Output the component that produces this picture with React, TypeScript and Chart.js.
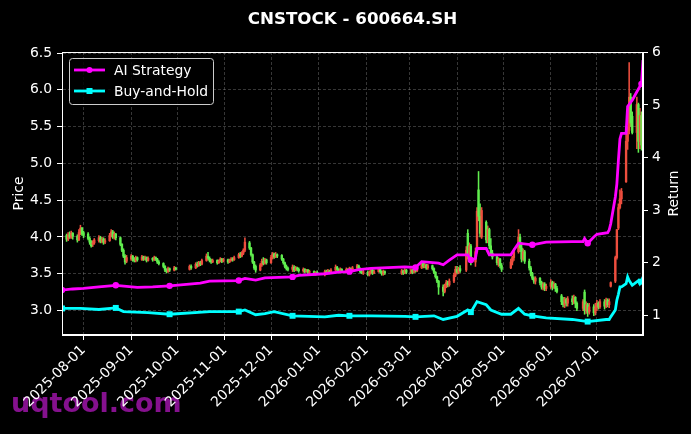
import React, { useEffect, useRef } from 'react';
import { Chart, registerables } from 'chart.js';

Chart.register(...registerables);

const TITLE = 'CNSTOCK - 600664.SH';
const WATERMARK = 'uqtool.com';
const Y_LABEL = 'Price';
const Y2_LABEL = 'Return';
const SERIES_NAMES = ['AI Strategy', 'Buy-and-Hold'];

const START_DATE = '2025-07-18';
const END_DATE = '2026-07-31';
const HOLIDAYS = [
  '2025-10-01', '2025-10-02', '2025-10-03', '2025-10-06', '2025-10-07', '2025-10-08',
  '2026-01-01', '2026-01-02',
  '2026-02-16', '2026-02-17', '2026-02-18', '2026-02-19', '2026-02-20', '2026-02-23',
  '2026-04-06', '2026-05-01', '2026-05-04', '2026-05-05', '2026-06-19',
];

const MONTH_TICKS = [
  '2025-08-01', '2025-09-01', '2025-10-01', '2025-11-01', '2025-12-01', '2026-01-01',
  '2026-02-01', '2026-03-01', '2026-04-01', '2026-05-01', '2026-06-01', '2026-07-01',
];
const PRICE_TICKS = [3.0, 3.5, 4.0, 4.5, 5.0, 5.5, 6.0, 6.5];
const RETURN_TICKS = [1, 2, 3, 4, 5, 6];
const PRICE_MIN = 2.668;
const PRICE_MAX = 6.514;
const RETURN_MIN = 0.625;
const RETURN_MAX = 6.006;

// daily candles (one entry per trading day, Jul 2025 .. Jul 2026)
const opens = [
  3.98, 4.02, 3.97, 4.03, 4.00, 4.05, 4.01, 3.96, 4.06, 4.12,
  4.06, 4.04, 3.98, 3.93, 3.90, 3.92, 3.95, 3.99, 3.94, 3.97, 3.93, 3.95, 4.02, 4.07, 4.00, 4.04, 3.99, 3.90, 3.82, 3.74, 3.67,
  3.70, 3.74, 3.70, 3.68, 3.72, 3.69, 3.73, 3.70, 3.72, 3.68, 3.71, 3.69, 3.72, 3.70, 3.66, 3.64, 3.60, 3.55, 3.53, 3.57, 3.55, 3.58,
  3.56, 3.60, 3.58, 3.63, 3.61, 3.65, 3.63, 3.68, 3.74, 3.71, 3.68, 3.66, 3.68, 3.65, 3.67, 3.70, 3.67,
  3.69, 3.66, 3.68, 3.70, 3.69, 3.72, 3.76, 3.74, 3.78, 3.82, 3.92, 3.85, 3.76, 3.66, 3.60, 3.55, 3.62, 3.67, 3.64, 3.69,
  3.65, 3.72, 3.77, 3.73, 3.76, 3.75, 3.70, 3.65, 3.60, 3.57, 3.56, 3.59, 3.55, 3.58, 3.56, 3.54, 3.56, 3.53, 3.55, 3.52, 3.53, 3.50, 3.52,
  3.49, 3.53, 3.51, 3.54, 3.52, 3.55, 3.59, 3.56, 3.54, 3.56, 3.54, 3.56, 3.54, 3.57, 3.55, 3.58, 3.61, 3.57, 3.53, 3.51,
  3.52, 3.49, 3.52, 3.55, 3.51, 3.53, 3.56, 3.53, 3.50, 3.53, 3.51, 3.54, 3.51, 3.55,
  3.52, 3.55, 3.52, 3.57, 3.54, 3.58, 3.64, 3.60, 3.62, 3.58, 3.61, 3.57, 3.52, 3.46, 3.40, 3.32, 3.26, 3.33, 3.38, 3.35, 3.40, 3.48,
  3.56, 3.52, 3.57, 3.55, 4.05, 3.75, 3.88, 3.66, 3.80, 4.64, 4.28, 4.00, 4.20, 3.96, 4.10, 3.88, 3.78, 3.73, 3.65, 3.70, 3.61,
  3.58, 3.66, 3.72, 3.80, 4.00, 3.85, 3.70, 3.80, 3.67, 3.58, 3.50, 3.44, 3.40, 3.44, 3.38, 3.32, 3.36, 3.30,
  3.33, 3.38, 3.32, 3.36, 3.30, 3.20, 3.12, 3.08, 3.15, 3.10, 3.16, 3.12, 3.18, 3.10, 3.03, 3.25, 3.00, 3.08, 2.98, 3.05, 2.97,
  3.04, 3.10, 3.05, 3.12, 3.06, 3.14, 3.08, 3.33, 3.40, 3.72, 4.12, 4.40, 4.52, 4.75, 5.30, 5.45, 5.90, 5.64, 5.42, 5.80, 5.30, 5.65, 5.25,
];
const highs = [
  4.05, 4.04, 4.06, 4.07, 4.08, 4.06, 4.03, 4.10, 4.16, 4.13,
  4.08, 4.06, 4.00, 3.95, 3.95, 3.98, 4.02, 4.01, 4.00, 3.99, 3.98, 4.05, 4.10, 4.09, 4.07, 4.05, 4.00, 3.91, 3.84, 3.76, 3.75,
  3.76, 3.75, 3.72, 3.74, 3.73, 3.75, 3.74, 3.74, 3.73, 3.73, 3.72, 3.74, 3.73, 3.71, 3.68, 3.65, 3.61, 3.57, 3.59, 3.58, 3.60, 3.59,
  3.62, 3.62, 3.65, 3.66, 3.67, 3.67, 3.70, 3.77, 3.79, 3.73, 3.70, 3.70, 3.69, 3.69, 3.72, 3.71, 3.71,
  3.70, 3.70, 3.72, 3.72, 3.74, 3.78, 3.79, 3.80, 3.84, 3.99, 3.94, 3.86, 3.77, 3.67, 3.62, 3.64, 3.70, 3.72, 3.71, 3.70,
  3.75, 3.79, 3.78, 3.79, 3.77, 3.76, 3.71, 3.66, 3.62, 3.59, 3.62, 3.61, 3.60, 3.59, 3.58, 3.58, 3.57, 3.56, 3.56, 3.55, 3.54, 3.53, 3.54,
  3.55, 3.55, 3.56, 3.55, 3.57, 3.62, 3.60, 3.57, 3.58, 3.57, 3.58, 3.57, 3.59, 3.58, 3.60, 3.63, 3.62, 3.58, 3.55, 3.55,
  3.54, 3.54, 3.57, 3.56, 3.55, 3.58, 3.57, 3.54, 3.55, 3.54, 3.56, 3.55, 3.57, 3.56,
  3.57, 3.56, 3.60, 3.58, 3.61, 3.67, 3.66, 3.65, 3.63, 3.63, 3.62, 3.58, 3.53, 3.47, 3.41, 3.35, 3.36, 3.41, 3.40, 3.43, 3.51, 3.60,
  3.60, 3.59, 3.61, 3.87, 4.10, 3.92, 3.90, 3.85, 4.40, 4.89, 4.45, 4.40, 4.22, 4.15, 4.12, 3.98, 3.82, 3.75, 3.72, 3.71, 3.64,
  3.70, 3.74, 3.84, 4.10, 4.04, 3.92, 3.84, 3.82, 3.70, 3.60, 3.52, 3.46, 3.46, 3.45, 3.40, 3.38, 3.38, 3.36,
  3.42, 3.40, 3.39, 3.37, 3.33, 3.22, 3.18, 3.18, 3.17, 3.19, 3.20, 3.21, 3.19, 3.12, 3.15, 3.28, 3.12, 3.10, 3.10, 3.08, 3.10,
  3.14, 3.12, 3.15, 3.15, 3.17, 3.16, 3.16, 3.39, 3.74, 4.10, 4.45, 4.64, 4.66, 5.42, 5.50, 6.37, 5.95, 5.70, 5.90, 5.82, 5.75, 5.70, 6.00,
];
const lows = [
  3.95, 3.94, 3.95, 3.98, 3.98, 3.97, 3.93, 3.95, 4.03, 4.02,
  3.99, 3.96, 3.90, 3.86, 3.87, 3.90, 3.93, 3.92, 3.92, 3.90, 3.91, 3.94, 4.00, 3.98, 3.97, 3.96, 3.88, 3.80, 3.72, 3.63, 3.65,
  3.68, 3.67, 3.66, 3.66, 3.67, 3.68, 3.68, 3.69, 3.66, 3.67, 3.67, 3.68, 3.68, 3.64, 3.62, 3.58, 3.53, 3.51, 3.52, 3.53, 3.54, 3.55,
  3.55, 3.56, 3.57, 3.59, 3.60, 3.61, 3.62, 3.67, 3.69, 3.66, 3.64, 3.65, 3.63, 3.64, 3.66, 3.65, 3.66,
  3.64, 3.65, 3.67, 3.67, 3.68, 3.71, 3.72, 3.73, 3.76, 3.80, 3.83, 3.74, 3.64, 3.56, 3.52, 3.54, 3.60, 3.62, 3.63, 3.63,
  3.64, 3.70, 3.71, 3.72, 3.72, 3.68, 3.63, 3.58, 3.55, 3.54, 3.53, 3.53, 3.54, 3.54, 3.52, 3.52, 3.51, 3.52, 3.50, 3.50, 3.48, 3.48, 3.49,
  3.47, 3.49, 3.50, 3.50, 3.51, 3.54, 3.54, 3.52, 3.53, 3.52, 3.53, 3.52, 3.53, 3.53, 3.54, 3.56, 3.55, 3.51, 3.50, 3.49,
  3.47, 3.47, 3.50, 3.49, 3.50, 3.52, 3.51, 3.48, 3.48, 3.49, 3.49, 3.49, 3.50, 3.50,
  3.50, 3.50, 3.51, 3.52, 3.53, 3.57, 3.58, 3.58, 3.56, 3.56, 3.55, 3.50, 3.44, 3.38, 3.22, 3.20, 3.24, 3.31, 3.32, 3.33, 3.38, 3.46,
  3.50, 3.50, 3.52, 3.53, 3.70, 3.68, 3.62, 3.60, 3.78, 4.22, 4.00, 3.98, 3.92, 3.92, 3.84, 3.75, 3.70, 3.62, 3.60, 3.58, 3.53,
  3.57, 3.62, 3.68, 3.78, 3.80, 3.66, 3.68, 3.64, 3.55, 3.47, 3.42, 3.37, 3.36, 3.35, 3.29, 3.28, 3.27, 3.27,
  3.30, 3.28, 3.30, 3.26, 3.24, 3.08, 3.05, 3.04, 3.06, 3.06, 3.08, 3.09, 3.04, 3.00, 3.00, 2.95, 2.96, 2.92, 2.95, 2.93, 2.94,
  3.00, 3.02, 3.03, 3.02, 3.04, 3.05, 3.04, 3.32, 3.38, 3.70, 4.10, 4.38, 4.45, 4.74, 5.19, 5.40, 5.50, 5.40, 5.20, 5.15, 5.20, 5.18, 5.20,
];
const closes = [
  4.02, 3.97, 4.03, 4.00, 4.05, 4.01, 3.96, 4.06, 4.12, 4.04,
  4.02, 3.98, 3.93, 3.88, 3.92, 3.96, 3.99, 3.94, 3.97, 3.93, 3.95, 4.02, 4.07, 4.00, 4.04, 3.99, 3.90, 3.82, 3.74, 3.66, 3.72,
  3.74, 3.70, 3.68, 3.72, 3.69, 3.73, 3.70, 3.72, 3.68, 3.71, 3.69, 3.72, 3.70, 3.66, 3.64, 3.60, 3.55, 3.53, 3.57, 3.55, 3.58, 3.56,
  3.60, 3.58, 3.63, 3.61, 3.65, 3.63, 3.68, 3.74, 3.71, 3.68, 3.66, 3.68, 3.65, 3.67, 3.70, 3.67, 3.69,
  3.66, 3.68, 3.70, 3.69, 3.72, 3.76, 3.74, 3.78, 3.82, 3.93, 3.85, 3.76, 3.66, 3.58, 3.55, 3.62, 3.67, 3.64, 3.69, 3.65,
  3.72, 3.77, 3.73, 3.76, 3.74, 3.70, 3.65, 3.60, 3.57, 3.56, 3.59, 3.55, 3.58, 3.56, 3.54, 3.56, 3.53, 3.55, 3.52, 3.53, 3.50, 3.52, 3.51,
  3.53, 3.51, 3.54, 3.52, 3.55, 3.59, 3.56, 3.54, 3.56, 3.54, 3.56, 3.54, 3.57, 3.55, 3.58, 3.61, 3.57, 3.53, 3.51, 3.53,
  3.49, 3.52, 3.55, 3.51, 3.53, 3.56, 3.53, 3.50, 3.53, 3.51, 3.54, 3.51, 3.55, 3.52,
  3.55, 3.52, 3.57, 3.54, 3.58, 3.64, 3.60, 3.62, 3.58, 3.61, 3.57, 3.52, 3.46, 3.40, 3.32, 3.26, 3.33, 3.38, 3.35, 3.40, 3.48, 3.56,
  3.52, 3.57, 3.54, 3.82, 3.75, 3.88, 3.66, 3.80, 4.35, 4.28, 4.05, 4.36, 3.96, 4.10, 3.88, 3.78, 3.73, 3.65, 3.70, 3.61, 3.56,
  3.66, 3.72, 3.80, 4.00, 3.85, 3.70, 3.80, 3.67, 3.58, 3.50, 3.44, 3.40, 3.44, 3.38, 3.32, 3.36, 3.30, 3.33,
  3.38, 3.32, 3.36, 3.30, 3.26, 3.12, 3.08, 3.15, 3.10, 3.16, 3.12, 3.18, 3.10, 3.03, 3.12, 3.00, 3.08, 2.98, 3.05, 2.97, 3.04,
  3.10, 3.05, 3.12, 3.06, 3.14, 3.08, 3.12, 3.38, 3.72, 4.10, 4.40, 4.52, 4.62, 5.30, 5.45, 5.90, 5.55, 5.42, 5.80, 5.30, 5.65, 5.25, 5.70,
];

// strategy return curves (right axis)
const aiDates = [
  '2025-07-18', '2025-07-25', '2025-08-01', '2025-08-11', '2025-08-22', '2025-09-05', '2025-09-15', '2025-09-26',
  '2025-10-16', '2025-10-22', '2025-11-10', '2025-11-14', '2025-11-21', '2025-11-27', '2025-12-15', '2025-12-19',
  '2026-01-05', '2026-01-14', '2026-01-21', '2026-01-27', '2026-02-04', '2026-02-26', '2026-03-05', '2026-03-09',
  '2026-03-20', '2026-03-23', '2026-03-27', '2026-04-01', '2026-04-08', '2026-04-10', '2026-04-13', '2026-04-14',
  '2026-04-20', '2026-04-22', '2026-05-06', '2026-05-08', '2026-05-11', '2026-05-20', '2026-05-29', '2026-06-15',
  '2026-06-22', '2026-06-23', '2026-06-25', '2026-06-29', '2026-07-01', '2026-07-08', '2026-07-09', '2026-07-10',
  '2026-07-13', '2026-07-14', '2026-07-15', '2026-07-16', '2026-07-17', '2026-07-20', '2026-07-21', '2026-07-24',
  '2026-07-27', '2026-07-29', '2026-07-30', '2026-07-31',
];
const aiValues = [
  1.48, 1.50, 1.51, 1.54, 1.57, 1.53, 1.54, 1.56,
  1.61, 1.65, 1.66, 1.70, 1.67, 1.71, 1.73, 1.76,
  1.79, 1.82, 1.83, 1.87, 1.89, 1.92, 1.91, 2.02,
  1.99, 1.96, 2.05, 2.15, 2.15, 2.05, 2.08, 2.27,
  2.27, 2.15, 2.15, 2.24, 2.37, 2.34, 2.39, 2.40,
  2.40, 2.46, 2.37, 2.49, 2.54, 2.57, 2.62, 2.74,
  3.25, 3.50, 3.95, 4.35, 4.46, 4.46, 4.97, 5.09,
  5.25, 5.35, 5.40, 5.85,
];
const bhDates = [
  '2025-07-18', '2025-07-30', '2025-08-11', '2025-08-22', '2025-08-27', '2025-09-12', '2025-09-26', '2025-10-22',
  '2025-11-10', '2025-11-14', '2025-11-21', '2025-11-27', '2025-12-03', '2025-12-15', '2026-01-05', '2026-01-14',
  '2026-01-21', '2026-02-04', '2026-02-26', '2026-03-05', '2026-03-17', '2026-03-23', '2026-04-01', '2026-04-08',
  '2026-04-10', '2026-04-14', '2026-04-20', '2026-04-23', '2026-04-30', '2026-05-06', '2026-05-11', '2026-05-15',
  '2026-05-20', '2026-05-29', '2026-06-15', '2026-06-25', '2026-07-07', '2026-07-09', '2026-07-10', '2026-07-13',
  '2026-07-14', '2026-07-15', '2026-07-16', '2026-07-17', '2026-07-20', '2026-07-21', '2026-07-22', '2026-07-24',
  '2026-07-28', '2026-07-29', '2026-07-30', '2026-07-31',
];
const bhValues = [
  1.13, 1.13, 1.11, 1.14, 1.07, 1.05, 1.02, 1.07,
  1.07, 1.10, 1.01, 1.03, 1.07, 0.99, 0.97, 1.00,
  0.99, 0.99, 0.98, 0.97, 0.99, 0.92, 0.98, 1.10,
  1.06, 1.26, 1.20, 1.10, 1.02, 1.02, 1.13, 1.02,
  0.99, 0.95, 0.92, 0.88, 0.92, 0.92, 0.97, 1.10,
  1.29, 1.40, 1.54, 1.54, 1.60, 1.73, 1.66, 1.57,
  1.66, 1.60, 1.64, 1.73,
];
const MARKER_EVERY = 25;

const FONT = '"DejaVu Sans", sans-serif';
const UP = 'rgb(238, 78, 62)';
const DOWN = 'rgb(96, 238, 78)';
const AI_COLOR = '#ff00ff';
const BH_COLOR = '#00ffff';
const GRID = 'rgba(150,150,150,0.45)';

const dayNum = (s: string) =>
  Date.UTC(+s.slice(0, 4), +s.slice(5, 7) - 1, +s.slice(8, 10)) / 86400000;

function tradingDays(): number[] {
  const hol = new Set(HOLIDAYS.map(dayNum));
  const out: number[] = [];
  for (let d = dayNum(START_DATE); d <= dayNum(END_DATE); d++) {
    const wd = new Date(d * 86400000).getUTCDay();
    if (wd === 0 || wd === 6 || hol.has(d)) continue;
    out.push(d);
  }
  return out;
}

export default function App() {
  const ref = useRef<HTMLCanvasElement | null>(null);

  useEffect(() => {
    document.body.style.margin = '0';
    document.body.style.background = '#000';
    const canvas = ref.current;
    if (!canvas) return;

    const days = tradingDays();
    const n = Math.min(days.length, opens.length, highs.length, lows.length, closes.length);
    const markerSet = new Set(days.filter((_, i) => i % MARKER_EVERY === 0));
    const colors = days.slice(0, n).map((_, i) => (closes[i] >= opens[i] ? UP : DOWN));
    const aiDays = aiDates.map(dayNum);
    const bhDays = bhDates.map(dayNum);
    const monthDays = MONTH_TICKS.map(dayNum);

    const decor = {
      id: 'decor',
      beforeDraw(chart: any) {
        const { ctx, width, height } = chart;
        ctx.save();
        ctx.fillStyle = '#000';
        ctx.fillRect(0, 0, width, height);
        ctx.font = `bold 27px ${FONT}`;
        ctx.fillStyle = 'rgba(140, 18, 150, 0.95)';
        ctx.textBaseline = 'alphabetic';
        ctx.textAlign = 'left';
        ctx.fillText(WATERMARK, 11, 412);
        ctx.restore();
      },
      afterDraw(chart: any) {
        const { ctx, chartArea: ca } = chart;
        ctx.save();
        ctx.strokeStyle = '#ffffff';
        ctx.lineWidth = 1;
        ctx.strokeRect(Math.round(ca.left) + 0.5, Math.round(ca.top) + 0.5,
          Math.round(ca.right - ca.left) - 1, Math.round(ca.bottom - ca.top) - 1);

        // title
        ctx.fillStyle = '#ffffff';
        ctx.font = `bold 16.7px ${FONT}`;
        ctx.textAlign = 'center';
        ctx.textBaseline = 'alphabetic';
        ctx.fillText(TITLE, (ca.left + ca.right) / 2, 24);

        // axis titles
        ctx.font = `13.9px ${FONT}`;
        const midY = (ca.top + ca.bottom) / 2;
        ctx.save();
        ctx.translate(22.6, midY);
        ctx.rotate(-Math.PI / 2);
        ctx.fillText(Y_LABEL, 0, 0);
        ctx.restore();
        ctx.save();
        ctx.translate(678, midY);
        ctx.rotate(-Math.PI / 2);
        ctx.fillText(Y2_LABEL, 0, 0);
        ctx.restore();

        // legend
        const bx = 69.5, by = 58.5, bw = 144, bh = 46, r = 3;
        ctx.beginPath();
        ctx.moveTo(bx + r, by);
        ctx.lineTo(bx + bw - r, by);
        ctx.arcTo(bx + bw, by, bx + bw, by + r, r);
        ctx.lineTo(bx + bw, by + bh - r);
        ctx.arcTo(bx + bw, by + bh, bx + bw - r, by + bh, r);
        ctx.lineTo(bx + r, by + bh);
        ctx.arcTo(bx, by + bh, bx, by + bh - r, r);
        ctx.lineTo(bx, by + r);
        ctx.arcTo(bx, by, bx + r, by, r);
        ctx.closePath();
        ctx.fillStyle = 'rgba(0,0,0,0.85)';
        ctx.fill();
        ctx.strokeStyle = '#cccccc';
        ctx.lineWidth = 1;
        ctx.stroke();

        const rows = [
          { y: 70, color: AI_COLOR, square: false, label: SERIES_NAMES[0] },
          { y: 91, color: BH_COLOR, square: true, label: SERIES_NAMES[1] },
        ];
        rows.forEach((row) => {
          ctx.strokeStyle = row.color;
          ctx.lineWidth = 2.8;
          ctx.beginPath();
          ctx.moveTo(74, row.y);
          ctx.lineTo(105, row.y);
          ctx.stroke();
          ctx.fillStyle = row.color;
          if (row.square) {
            ctx.fillRect(86.5, row.y - 3, 6, 6);
          } else {
            ctx.beginPath();
            ctx.arc(89.5, row.y, 3, 0, Math.PI * 2);
            ctx.fill();
          }
          ctx.fillStyle = '#ffffff';
          ctx.textAlign = 'left';
          ctx.font = `13.9px ${FONT}`;
          ctx.fillText(row.label, 114, row.y + 5);
        });
        ctx.restore();
      },
    };

    const chart = new Chart(canvas, {
      type: 'bar',
      data: {
        datasets: [
          {
            type: 'line',
            label: SERIES_NAMES[0],
            data: aiDays.map((d, i) => ({ x: d, y: aiValues[i] })),
            yAxisID: 'y1',
            borderColor: AI_COLOR,
            backgroundColor: AI_COLOR,
            borderWidth: 2.8,
            tension: 0,
            pointStyle: 'circle',
            pointRadius: (c: any) => (markerSet.has(aiDays[c.dataIndex]) ? 3.2 : 0),
            pointBorderWidth: 0,
            order: 0,
          } as any,
          {
            type: 'line',
            label: SERIES_NAMES[1],
            data: bhDays.map((d, i) => ({ x: d, y: bhValues[i] })),
            yAxisID: 'y1',
            borderColor: BH_COLOR,
            backgroundColor: BH_COLOR,
            borderWidth: 2.8,
            tension: 0,
            pointStyle: 'rect',
            pointRadius: (c: any) => (markerSet.has(bhDays[c.dataIndex]) ? 4.2 : 0),
            pointBorderWidth: 0,
            order: 1,
          } as any,
          {
            type: 'bar',
            label: 'body',
            data: days.slice(0, n).map((d, i) => ({ x: d, y: [opens[i], closes[i]] })),
            yAxisID: 'y',
            backgroundColor: colors,
            borderWidth: 0,
            barThickness: 1.7,
            grouped: false,
            order: 2,
          } as any,
          {
            type: 'bar',
            label: 'wick',
            data: days.slice(0, n).map((d, i) => ({ x: d, y: [lows[i], highs[i]] })),
            yAxisID: 'y',
            backgroundColor: colors,
            borderWidth: 0,
            barThickness: 0.9,
            grouped: false,
            order: 3,
          } as any,
        ],
      },
      options: {
        responsive: false,
        animation: false,
        devicePixelRatio: window.devicePixelRatio || 1,
        layout: { padding: { top: 52, left: 0, right: 0, bottom: 0 } },
        plugins: {
          legend: { display: false },
          title: { display: false },
          tooltip: { enabled: false },
        },
        scales: {
          x: {
            type: 'linear',
            min: dayNum(START_DATE),
            max: dayNum(END_DATE),
            offset: false,
            afterBuildTicks: (s: any) => {
              s.ticks = monthDays.map((v) => ({ value: v }));
            },
            afterFit: (s: any) => {
              s.height = 99;
            },
            ticks: {
              autoSkip: false,
              maxRotation: 45,
              minRotation: 45,
              color: '#ffffff',
              padding: 2,
              font: { family: FONT, size: 13.9 },
              callback: (_v: any, i: number) => MONTH_TICKS[i],
            },
            grid: {
              color: GRID,
              lineWidth: 0.8,
              drawTicks: true,
              tickLength: 5,
              tickColor: '#ffffff',
              tickWidth: 1,
              offset: false,
            },
            border: { display: true, color: '#ffffff', width: 1, dash: [3, 2] },
          },
          y: {
            type: 'linear',
            position: 'left',
            min: PRICE_MIN,
            max: PRICE_MAX,
            afterBuildTicks: (s: any) => {
              s.ticks = PRICE_TICKS.map((v) => ({ value: v }));
            },
            afterFit: (s: any) => {
              s.width = 62;
            },
            ticks: {
              color: '#ffffff',
              padding: 5,
              font: { family: FONT, size: 13.9 },
              callback: (v: any) => Number(v).toFixed(1),
            },
            grid: {
              color: GRID,
              lineWidth: 0.8,
              drawTicks: true,
              tickLength: 5,
              tickColor: '#ffffff',
              tickWidth: 1,
            },
            border: { display: true, color: '#ffffff', width: 1, dash: [3, 2] },
          },
          y1: {
            type: 'linear',
            position: 'right',
            min: RETURN_MIN,
            max: RETURN_MAX,
            afterBuildTicks: (s: any) => {
              s.ticks = RETURN_TICKS.map((v) => ({ value: v }));
            },
            afterFit: (s: any) => {
              s.width = 48;
            },
            ticks: {
              color: '#ffffff',
              padding: 4,
              font: { family: FONT, size: 13.9 },
              callback: (v: any) => String(v),
            },
            grid: {
              drawOnChartArea: false,
              drawTicks: true,
              tickLength: 5,
              tickColor: '#ffffff',
              tickWidth: 1,
            },
            border: { display: true, color: '#ffffff', width: 1 },
          },
        },
      } as any,
      plugins: [decor],
    });

    return () => chart.destroy();
  }, []);

  return (
    <div style={{ width: 691, height: 434, background: '#000' }}>
      <canvas ref={ref} width={691} height={434} style={{ display: 'block', width: 691, height: 434 }} />
    </div>
  );
}
